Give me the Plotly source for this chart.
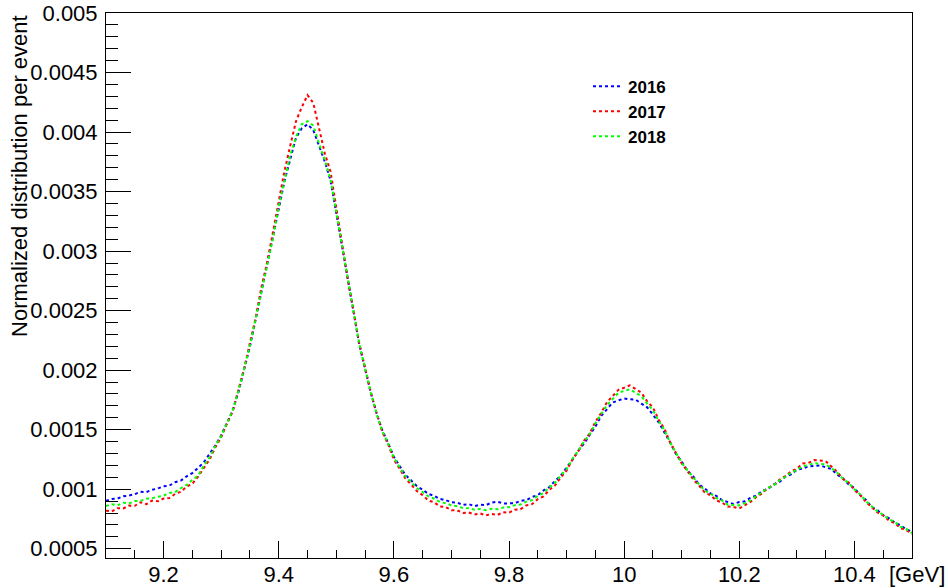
import numpy as np
import plotly.graph_objects as go

# Dimuon invariant mass bins [GeV], 10 MeV wide
mass = np.round(np.arange(9.10, 10.505, 0.01), 2)

# Normalized yield per event, in units of 1e-6
y2016_e6 = [
    902, 918, 921, 940, 947, 958, 978, 976, 995, 1006,
    1024, 1030, 1058, 1072, 1108, 1135, 1180, 1226, 1298, 1368,
    1452, 1556, 1660, 1815, 2008, 2198, 2428, 2655, 2878, 3095,
    3352, 3588, 3776, 3952, 4030, 4065, 4018, 3885, 3752, 3594,
    3318, 3048, 2745, 2472, 2212, 2010, 1808, 1638, 1495, 1388,
    1272, 1195, 1120, 1074, 1026, 996, 960, 944, 918, 908,
    890, 888, 868, 874, 858, 870, 866, 888, 895, 880,
    884, 882, 902, 908, 935, 950, 990, 1018, 1070, 1114,
    1182, 1244, 1322, 1380, 1455, 1526, 1614, 1670, 1728, 1746,
    1762, 1755, 1752, 1718, 1688, 1626, 1562, 1476, 1392, 1295,
    1232, 1156, 1108, 1040, 1006, 964, 944, 908, 892, 876,
    892, 898, 930, 948, 986, 1004, 1040, 1062, 1104, 1124,
    1164, 1172, 1192, 1194, 1200, 1184, 1170, 1122, 1092, 1040,
    1010, 950, 910, 850, 824, 780, 756, 720, 696, 664,
    642,
]
y2017_e6 = [
    820, 812, 840, 838, 862, 860, 890, 874, 904, 898,
    922, 926, 960, 978, 1022, 1046, 1106, 1180, 1250, 1352,
    1436, 1548, 1652, 1836, 2014, 2228, 2440, 2696, 2910, 3158,
    3412, 3672, 3885, 4090, 4208, 4310, 4245, 4020, 3822, 3668,
    3352, 3078, 2762, 2498, 2225, 2024, 1815, 1636, 1480, 1378,
    1250, 1172, 1090, 1040, 984, 950, 905, 890, 855, 850,
    824, 822, 800, 804, 788, 796, 780, 792, 784, 806,
    802, 828, 832, 864, 874, 916, 940, 994, 1032, 1100,
    1156, 1248, 1316, 1406, 1466, 1566, 1640, 1730, 1782, 1834,
    1852, 1872, 1842, 1810, 1738, 1686, 1584, 1506, 1392, 1308,
    1216, 1152, 1082, 1030, 972, 948, 906, 888, 854, 850,
    838, 866, 896, 936, 966, 1012, 1034, 1080, 1110, 1150,
    1172, 1216, 1220, 1244, 1240, 1236, 1190, 1146, 1086, 1056,
    992, 950, 892, 850, 804, 780, 736, 716, 674, 656,
    625,
]
y2018_e6 = [
    858, 874, 864, 886, 880, 900, 902, 920, 925, 936,
    946, 968, 975, 1008, 1036, 1078, 1114, 1200, 1266, 1365,
    1446, 1553, 1662, 1825, 2012, 2206, 2434, 2664, 2888, 3106,
    3374, 3596, 3804, 3960, 4065, 4092, 4055, 3905, 3765, 3604,
    3326, 3054, 2752, 2478, 2218, 2015, 1810, 1634, 1490, 1382,
    1265, 1185, 1108, 1060, 1010, 976, 940, 920, 892, 882,
    864, 856, 842, 840, 828, 834, 824, 836, 832, 846,
    848, 866, 872, 896, 908, 944, 968, 1016, 1054, 1116,
    1170, 1254, 1320, 1398, 1460, 1552, 1626, 1706, 1756, 1810,
    1826, 1838, 1810, 1782, 1718, 1664, 1572, 1496, 1390, 1304,
    1222, 1158, 1094, 1040, 988, 962, 926, 906, 870, 870,
    864, 884, 908, 944, 976, 1012, 1034, 1074, 1104, 1138,
    1162, 1192, 1202, 1220, 1212, 1208, 1178, 1138, 1088, 1052,
    1000, 956, 900, 854, 814, 784, 746, 726, 686, 666,
    632,
]

series = [
    ("2016", y2016_e6, "rgb(0,0,255)"),
    ("2017", y2017_e6, "rgb(255,0,0)"),
    ("2018", y2018_e6, "rgb(0,255,0)"),
]

x_tick_vals = [9.2, 9.4, 9.6, 9.8, 10.0, 10.2, 10.4]
x_tick_text = ["9.2", "9.4", "9.6", "9.8", "10", "10.2", "10.4"]
y_tick_vals = [0.0005, 0.001, 0.0015, 0.002, 0.0025, 0.003, 0.0035, 0.004, 0.0045, 0.005]
y_tick_text = ["0.0005", "0.001", "0.0015", "0.002", "0.0025", "0.003",
               "0.0035", "0.004", "0.0045", "0.005"]

FONT = "Liberation Sans, Arial, Helvetica, sans-serif"

fig = go.Figure()
for name, vals, color in series:
    fig.add_trace(go.Scatter(
        x=mass,
        y=np.array(vals) * 1e-6,
        mode="lines",
        name=name,
        line=dict(color=color, width=2, dash="dot"),
        hoverinfo="skip",
    ))

fig.update_layout(
    width=948,
    height=588,
    margin=dict(l=106, r=36, t=13, b=30, autoexpand=False),
    paper_bgcolor="white",
    plot_bgcolor="white",
    font=dict(family=FONT, size=22, color="black"),
    showlegend=True,
    legend=dict(
        x=0.598, y=0.898, xanchor="left", yanchor="top",
        bgcolor="rgba(0,0,0,0)",
        font=dict(family=FONT, size=17, color="black", weight="bold"),
        itemwidth=30,
        tracegroupgap=0,
    ),
    xaxis=dict(
        range=[9.1, 10.5],
        automargin=False,
        showgrid=False,
        zeroline=False,
        showline=True, linecolor="black", linewidth=1, mirror=True,
        ticks="inside", ticklen=17, tickcolor="black", tickwidth=1,
        tickvals=x_tick_vals, ticktext=x_tick_text,
        tickfont=dict(family=FONT, size=22, color="black"),
        ticklabelstandoff=-3,
        minor=dict(dtick=0.05, tick0=9.1, ticks="inside", ticklen=8,
                   tickcolor="black", tickwidth=1, showgrid=False),
    ),
    yaxis=dict(
        range=[0.000422, 0.005],
        automargin=False,
        showgrid=False,
        zeroline=False,
        showline=True, linecolor="black", linewidth=1, mirror=True,
        ticks="inside", ticklen=25, tickcolor="black", tickwidth=1,
        tickvals=y_tick_vals, ticktext=y_tick_text,
        tickfont=dict(family=FONT, size=22, color="black"),
        ticklabelstandoff=3,
        minor=dict(dtick=0.0001, tick0=0.0, ticks="inside", ticklen=12,
                   tickcolor="black", tickwidth=1, showgrid=False),
    ),
)

# Axis titles placed at the axis ends
fig.add_annotation(
    text="Normalized distribution per event",
    xref="paper", yref="paper",
    x=-0.108, y=1.0, xanchor="center", yanchor="top",
    textangle=-90, showarrow=False,
    font=dict(family=FONT, size=22, color="black"),
)
fig.add_annotation(
    text="[GeV]",
    xref="paper", yref="paper",
    x=1.043, y=-0.03, xanchor="right", yanchor="middle",
    showarrow=False,
    font=dict(family=FONT, size=22, color="black"),
)

fig.write_html("out.html")
